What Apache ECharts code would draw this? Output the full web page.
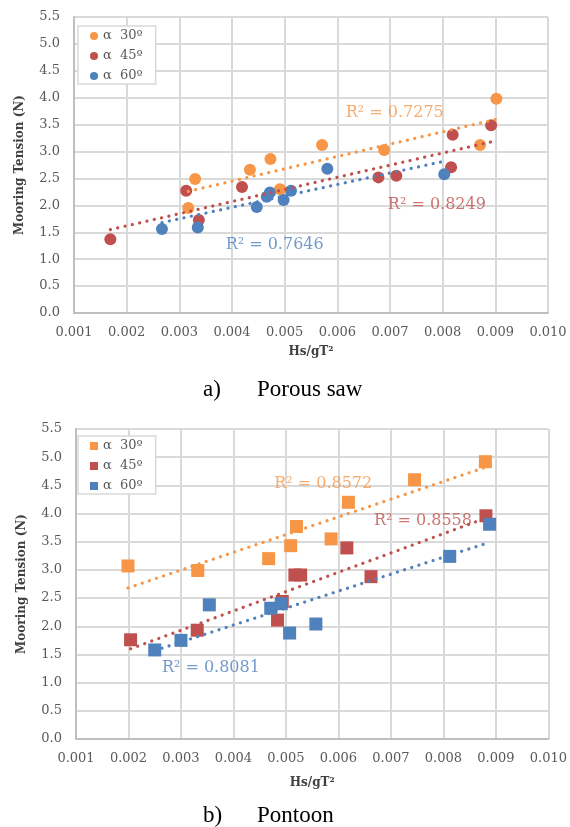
<!DOCTYPE html>
<html><head><meta charset="utf-8">
<script src="https://cdn.jsdelivr.net/npm/echarts@6.0.0/dist/echarts.min.js"></script>
<style>html,body{margin:0;padding:0;background:#fff}#c{width:570px;height:827px}</style>
</head><body><div id="c"></div>
<script>
// ---------- data ----------
const seriesNames = ['α  30º', 'α  45º', 'α  60º'];
const xTicks = [0.001, 0.010, 0.001];   // min, max, step
const yTicks = [0, 5.5, 0.5];

// a) Porous saw
const saw30X = [0.00317, 0.00330, 0.00434, 0.00473, 0.00491, 0.00571, 0.00689, 0.00871, 0.00902];
const saw30Y = [1.95, 2.49, 2.66, 2.86, 2.30, 3.12, 3.03, 3.12, 3.98];
const saw45X = [0.00169, 0.00313, 0.00337, 0.00419, 0.00678, 0.00712, 0.00816, 0.00819, 0.00892];
const saw45Y = [1.37, 2.27, 1.73, 2.34, 2.52, 2.55, 2.71, 3.31, 3.49];
const saw60X = [0.00267, 0.00335, 0.00447, 0.00466, 0.00472, 0.00498, 0.00512, 0.00581, 0.00803];
const saw60Y = [1.56, 1.59, 1.97, 2.16, 2.24, 2.10, 2.27, 2.68, 2.58];
const sawTrendX = [[0.00317, 0.00902], [0.00169, 0.00892], [0.00267, 0.00803]];
const sawTrendY = [[2.26, 3.60], [1.55, 3.18], [1.68, 2.82]];
const sawR2 = ['R² = 0.7275', 'R² = 0.8249', 'R² = 0.7646'];

// b) Pontoon
const pon30X = [0.00199, 0.00332, 0.00467, 0.00509, 0.00520, 0.00586, 0.00619, 0.00745, 0.00880];
const pon30Y = [3.07, 2.99, 3.20, 3.43, 3.77, 3.55, 4.20, 4.60, 4.92];
const pon45X = [0.00204, 0.00331, 0.00484, 0.00493, 0.00517, 0.00528, 0.00616, 0.00662, 0.00881];
const pon45Y = [1.76, 1.93, 2.11, 2.44, 2.91, 2.91, 3.39, 2.88, 3.96];
const pon60X = [0.00250, 0.00300, 0.00354, 0.00471, 0.00491, 0.00507, 0.00557, 0.00812, 0.00888];
const pon60Y = [1.58, 1.75, 2.38, 2.32, 2.40, 1.88, 2.04, 3.24, 3.81];
const ponTrendX = [[0.00199, 0.00880], [0.00204, 0.00881], [0.00250, 0.00888]];
const ponTrendY = [[2.68, 4.82], [1.60, 3.92], [1.57, 3.49]];
const ponR2 = ['R² = 0.8572', 'R² = 0.8558', 'R² = 0.8081'];

// ---------- layout / style (not data) ----------
const colors = ['#F79646', '#C0504D', '#4F81BD'];
const sawLabelPos = [[0.00709, 3.715], [0.00789, 2.008], [0.00481, 1.267]];
const ponLabelPos = [[0.00571, 4.527], [0.00761, 3.87], [0.00357, 1.259]];
const tickFont = 'DejaVu Serif';

function pts(xs, ys) { return xs.map((x, i) => [x, ys[i]]); }

function panelSeries(k, xsArr, ysArr, trX, trY, r2, labPos, symbol, size) {
  const out = [];
  for (let i = 0; i < 3; i++) {
    out.push({
      type: 'scatter', name: seriesNames[i], xAxisIndex: k, yAxisIndex: k,
      data: pts(xsArr[i], ysArr[i]), symbol: symbol, symbolSize: size,
      itemStyle: { color: colors[i], opacity: 1 }, z: 2, silent: true
    });
  }
  for (let i = 0; i < 3; i++) {
    out.push({
      type: 'line', xAxisIndex: k, yAxisIndex: k, data: pts(trX[i], trY[i]),
      symbol: 'none', showSymbol: false, silent: true, z: 3,
      lineStyle: { color: colors[i], width: 3.2, type: [0.1, 7.4], cap: 'round' }
    });
  }
  for (let i = 0; i < 3; i++) {
    out.push({
      type: 'scatter', xAxisIndex: k, yAxisIndex: k, data: [labPos[i]],
      symbolSize: 1, itemStyle: { color: 'transparent' }, silent: true, z: 4,
      label: { show: true, position: 'inside', formatter: r2[i], color: colors[i],
        fontFamily: tickFont, fontSize: 16 }
    });
  }
  return out;
}

function xAxis(k, gap) {
  return {
    type: 'value', gridIndex: k, min: xTicks[0], max: xTicks[1], interval: xTicks[2],
    name: 'Hs/gT²', nameLocation: 'middle', nameGap: gap,
    nameTextStyle: { fontFamily: tickFont, fontWeight: 'bold', fontSize: 12, color: '#404040' },
    axisLine: { show: true, lineStyle: { color: '#bfbfbf', width: 2 } },
    axisTick: { show: false },
    axisLabel: { margin: 13, fontFamily: tickFont, fontSize: 13, color: '#595959',
      formatter: v => v.toFixed(3) },
    splitLine: { show: true, lineStyle: { color: '#d9d9d9', width: 2 } }
  };
}
function yAxis(k) {
  return {
    type: 'value', gridIndex: k, min: yTicks[0], max: yTicks[1], interval: yTicks[2],
    name: 'Mooring Tension (N)', nameLocation: 'middle', nameGap: 48,
    nameTextStyle: { fontFamily: tickFont, fontWeight: 'bold', fontSize: 12, color: '#404040' },
    axisLine: { show: true, lineStyle: { color: '#bfbfbf', width: 2 } },
    axisTick: { show: false },
    axisLabel: { margin: 14, fontFamily: tickFont, fontSize: 13, color: '#595959',
      formatter: v => v.toFixed(1) },
    splitLine: { show: true, lineStyle: { color: '#d9d9d9', width: 2 } }
  };
}
function legend(top, icon) {
  return {
    orient: 'vertical', left: 78, top: top, padding: [3, 13, 1, 12],
    itemWidth: 8, itemHeight: 8, itemGap: 6,
    borderColor: '#d9d9d9', borderWidth: 1.5, backgroundColor: '#fff',
    textStyle: { fontFamily: tickFont, fontSize: 13, color: '#595959', lineHeight: 14 },
    selectedMode: false,
    data: seriesNames.map(n => ({ name: n, icon: icon }))
  };
}

const chart = echarts.init(document.getElementById('c'), null, { renderer: 'canvas' });
chart.setOption({
  animation: false,
  backgroundColor: '#fff',
  grid: [
    { left: 74, right: 22, top: 17, height: 296 },
    { left: 76, right: 20, top: 429, height: 310 }
  ],
  xAxis: [xAxis(0, 33), xAxis(1, 38)],
  yAxis: [yAxis(0), yAxis(1)],
  legend: [legend(26, 'circle'), legend(436, 'rect')],
  series: [].concat(
    panelSeries(0, [saw30X, saw45X, saw60X], [saw30Y, saw45Y, saw60Y], sawTrendX, sawTrendY, sawR2, sawLabelPos, 'circle', 12),
    panelSeries(1, [pon30X, pon45X, pon60X], [pon30Y, pon45Y, pon60Y], ponTrendX, ponTrendY, ponR2, ponLabelPos, 'rect', 13)
  ),
  graphic: [
    { type: 'text', left: 203, top: 378, style: { text: 'a)', font: '23px "Liberation Serif"', fill: '#000' } },
    { type: 'text', left: 257, top: 378, style: { text: 'Porous saw', font: '23px "Liberation Serif"', fill: '#000' } },
    { type: 'text', left: 203, top: 804, style: { text: 'b)', font: '23px "Liberation Serif"', fill: '#000' } },
    { type: 'text', left: 257, top: 804, style: { text: 'Pontoon', font: '23px "Liberation Serif"', fill: '#000' } }
  ]
});
</script></body></html>
